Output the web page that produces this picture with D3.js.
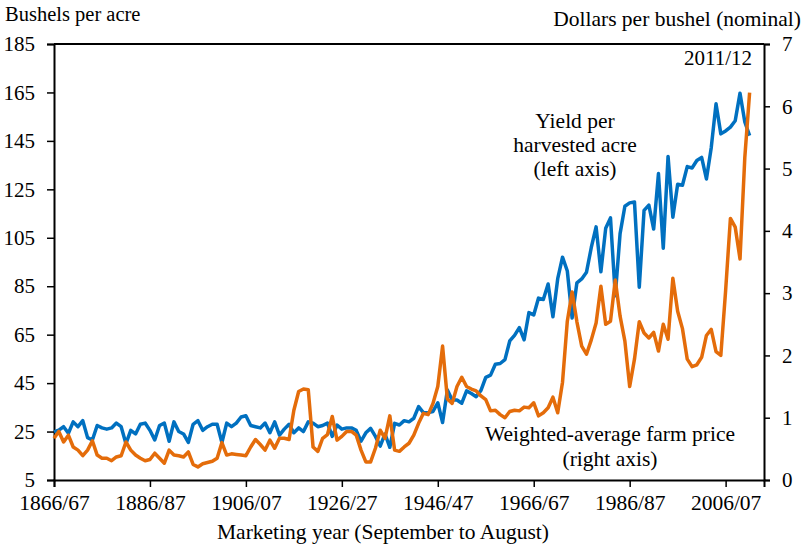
<!DOCTYPE html>
<html>
<head>
<meta charset="utf-8">
<script src="https://cdn.jsdelivr.net/npm/d3@7"></script>
<style>
  body { margin: 0; background: #fff; }
  svg text { font-family: "Liberation Serif", "Times New Roman", serif; fill: #000; }
</style>
</head>
<body>
<div id="chart"></div>
<script>
const firstYear = 1866

// yield per harvested acre, bushels, 1866/67 .. 2011/12
const yieldValues = [
  24.9, 25.6, 27.0, 24.3, 29.0, 27.0, 29.5, 22.5, 21.5, 27.5,
  26.5, 26.0, 26.5, 28.5, 27.0, 20.0, 25.5, 24.0, 28.0, 28.5,
  25.5, 21.5, 27.5, 28.5, 21.0, 29.0, 25.0, 24.0, 20.5, 28.0,
  29.5, 25.5, 27.0, 28.0, 28.0, 20.5, 28.5, 27.0, 28.5, 31.0,
  31.5, 27.5, 27.0, 26.5, 28.5, 24.5, 29.0, 23.5, 26.0, 28.0,
  24.5, 26.5, 25.0, 29.0, 28.5, 27.0, 27.5, 28.5, 23.0, 27.7,
  26.0, 26.5, 26.5, 25.5, 21.0, 24.5, 26.3, 23.0, 19.0, 24.0,
  18.5, 28.4, 27.7, 29.5, 29.0, 30.5, 35.3, 32.8, 32.8, 33.3,
  36.9, 28.7, 42.2, 38.0, 38.0, 36.7, 41.8, 40.7, 39.4, 42.0,
  47.4, 48.3, 52.8, 53.1, 54.7, 62.4, 64.7, 67.9, 62.9, 74.1,
  73.1, 80.1, 79.5, 85.9, 72.4, 88.1, 97.0, 91.3, 71.9, 86.4,
  88.0, 90.8, 101.0, 109.5, 91.0, 108.9, 113.2, 81.1, 106.7, 118.0,
  119.4, 119.8, 84.6, 116.3, 118.5, 108.6, 131.5, 100.7, 138.6, 113.5,
  127.1, 126.7, 134.4, 133.8, 136.9, 138.2, 129.3, 142.2, 160.3, 147.9,
  149.1, 150.7, 153.3, 164.7, 152.8, 147.2
]

// weighted-average farm price, dollars per bushel (nominal)
const priceValues = [
  0.67, 0.78, 0.61, 0.72, 0.53, 0.48, 0.39, 0.48, 0.63, 0.40,
  0.35, 0.35, 0.31, 0.37, 0.39, 0.61, 0.48, 0.40, 0.35, 0.31,
  0.33, 0.43, 0.35, 0.27, 0.48, 0.40, 0.39, 0.37, 0.45, 0.25,
  0.21, 0.26, 0.28, 0.30, 0.35, 0.60, 0.40, 0.42, 0.41, 0.40,
  0.39, 0.53, 0.65, 0.57, 0.48, 0.64, 0.51, 0.67, 0.67, 0.65,
  1.12, 1.42, 1.46, 1.45, 0.53, 0.46, 0.67, 0.73, 1.02, 0.64,
  0.70, 0.78, 0.78, 0.72, 0.48, 0.29, 0.29, 0.51, 0.80, 0.67,
  1.03, 0.48, 0.46, 0.53, 0.59, 0.72, 0.91, 1.07, 1.05, 1.23,
  1.50, 2.15, 1.30, 1.23, 1.50, 1.65, 1.50, 1.46, 1.43, 1.35,
  1.29, 1.11, 1.12, 1.05, 1.00, 1.10, 1.12, 1.11, 1.17, 1.16,
  1.24, 1.03, 1.08, 1.16, 1.33, 1.08, 1.57, 2.55, 3.02, 2.54,
  2.15, 2.02, 2.25, 2.52, 3.11, 2.50, 2.55, 3.21, 2.63, 2.23,
  1.50, 1.94, 2.54, 2.36, 2.28, 2.37, 2.07, 2.50, 2.26, 3.24,
  2.71, 2.43, 1.94, 1.82, 1.85, 1.97, 2.32, 2.42, 2.06, 2.00,
  3.04, 4.20, 4.06, 3.55, 5.18, 6.22
]

const xTickYears = [1866, 1886, 1906, 1926, 1946, 1966, 1986, 2006]
const leftTicks = [5, 25, 45, 65, 85, 105, 125, 145, 165, 185]
const rightTicks = [0, 1, 2, 3, 4, 5, 6, 7]

const width = 806
const height = 545
const margin = { top: 44, right: 42, bottom: 65, left: 54 }

const svg = d3.select("#chart")
  .append("svg")
  .attr("width", width)
  .attr("height", height)

const x = d3.scaleLinear()
  .domain([1866, 2014])
  .range([margin.left, width - margin.right])

const yLeft = d3.scaleLinear()
  .domain([5, 185])
  .range([height - margin.bottom, margin.top])

const yRight = d3.scaleLinear()
  .domain([0, 7])
  .range([height - margin.bottom, margin.top])

const yieldData = yieldValues.map((v, i) => ({ year: firstYear + i, value: v }))
const priceData = priceValues.map((v, i) => ({ year: firstYear + i, value: v }))

const fmtYear = d => d + "/" + String(d + 1).slice(2)

// axes
const xAxis = svg.append("g")
  .attr("transform", `translate(0,${height - margin.bottom})`)
  .call(d3.axisBottom(x).tickValues(xTickYears).tickFormat(fmtYear)
    .tickSizeOuter(0).tickSize(7).tickPadding(8))

const leftAxis = svg.append("g")
  .attr("transform", `translate(${margin.left},0)`)
  .call(d3.axisLeft(yLeft).tickValues(leftTicks)
    .tickSizeOuter(0).tickSize(7).tickPadding(12))

const rightAxis = svg.append("g")
  .attr("transform", `translate(${width - margin.right},0)`)
  .call(d3.axisRight(yRight).tickValues(rightTicks).tickFormat(d3.format("d"))
    .tickSizeOuter(0).tickSize(6).tickPadding(12))

;[xAxis, leftAxis, rightAxis].forEach(g => {
  g.selectAll("path.domain").attr("stroke", "#000").attr("stroke-width", 2)
  g.selectAll(".tick line").attr("stroke", "#000").attr("stroke-width", 1.5)
  g.selectAll("text").style("font-size", "21px")
    .style("font-family", '"Liberation Serif", "Times New Roman", serif')
})
xAxis.selectAll("text").style("font-size", "21.5px")

// top border
svg.append("line")
  .attr("x1", margin.left).attr("x2", width - margin.right)
  .attr("y1", margin.top).attr("y2", margin.top)
  .attr("stroke", "#000").attr("stroke-width", 2)

// series
const yieldLine = d3.line().x(d => x(d.year)).y(d => yLeft(d.value))
const priceLine = d3.line().x(d => x(d.year)).y(d => yRight(d.value))

svg.append("path")
  .datum(yieldData)
  .attr("fill", "none")
  .attr("stroke", "#0070C0")
  .attr("stroke-width", 3.5)
  .attr("stroke-linejoin", "round")
  .attr("d", yieldLine)

svg.append("path")
  .datum(priceData)
  .attr("fill", "none")
  .attr("stroke", "#E46C0A")
  .attr("stroke-width", 3.5)
  .attr("stroke-linejoin", "round")
  .attr("d", priceLine)

// labels
const label = (txt, lx, ly, anchor, size) => svg.append("text")
  .attr("x", lx).attr("y", ly)
  .attr("text-anchor", anchor)
  .style("font-size", (size || 21.5) + "px")
  .text(txt)

label("Bushels per acre", 5, 21, "start", 20.5)
label("Dollars per bushel (nominal)", 801, 26, "end")
label("2011/12", 752, 65, "end", 21)

label("Yield per", 575, 128, "middle")
label("harvested acre", 575, 152, "middle")
label("(left axis)", 575, 176, "middle")

label("Weighted-average farm price", 610, 441, "middle")
label("(right axis)", 610, 466, "middle")

label("Marketing year (September to August)", 383, 539, "middle")
</script>
</body>
</html>
